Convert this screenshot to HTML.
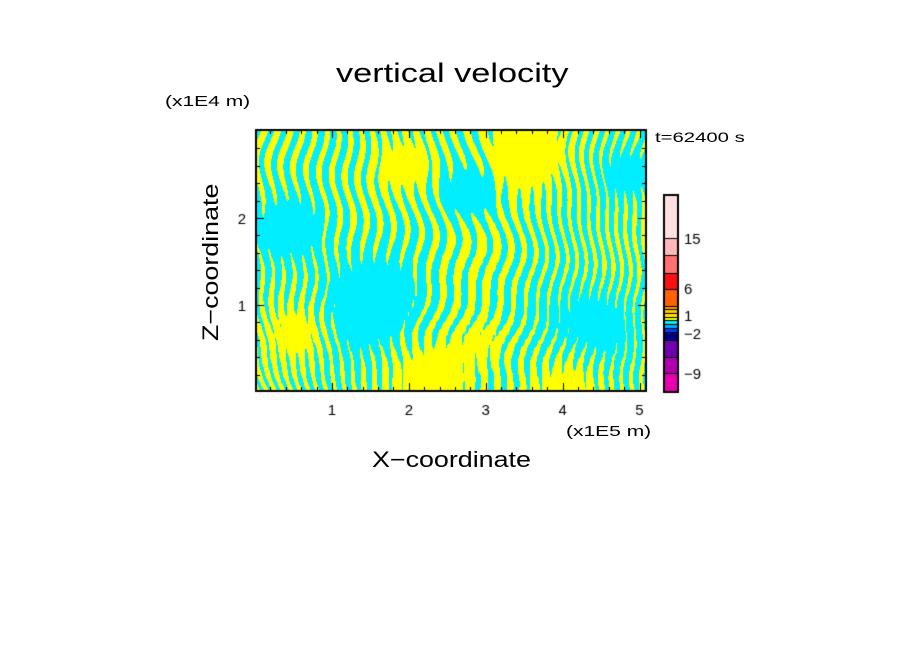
<!DOCTYPE html>
<html><head><meta charset="utf-8"><style>
body{margin:0;background:#fff;width:904px;height:654px;overflow:hidden;position:relative;font-family:"Liberation Sans",sans-serif}
.t{position:absolute;color:#000;white-space:nowrap;transform-origin:0 0}
</style></head><body>
<div class="t" style="left:336px;top:58px;font-size:27px;transform:scaleX(1.27)">vertical velocity</div>
<div class="t" style="left:165px;top:93px;font-size:15px;transform:scaleX(1.4)">(x1E4 m)</div>
<div class="t" style="left:655px;top:129px;font-size:14px;transform:scaleX(1.45)">t=62400 s</div>
<div class="t" style="left:566px;top:423px;font-size:15px;transform:scaleX(1.4)">(x1E5 m)</div>
<div class="t" style="left:372px;top:447px;font-size:22px;transform:scaleX(1.22)">X−coordinate</div>
<div class="t" style="left:198px;top:341px;font-size:22px;transform:rotate(-90deg) scaleX(1.22)">Z−coordinate</div>
<canvas id="c" width="904" height="654" style="position:absolute;left:0;top:0"></canvas>
<script>
const xTicks=[1,2,3,4,5];
const yTicks=[1,2];
const cbLevels=[195,238,255,273,289,306,309,313,317,320,324,328,332,335,340,357,373,392];
const cbColors=["#ffe0e0","#ffb8b8","#ff7070","#ff1010","#ff6000","#ff9a00","#ffc800","#ffe800","#ffff00","#00eeff","#00b0ff","#0040ff","#0000c0","#000090","#7000b0","#b000b0","#e800b0"];
const cbLabels=[["15",238],["6",288],["1",315],["−2",333],["−9",373]];
// large-scale features of the field: [x (1E5 m), z (1E4 m), radius (px), sign]
const blobX=[1.5,4.4,0.45,2.8,4.9,2.3,3.55,0.6,4.1,1.95,3.0];
const blobZ=[1.0,0.8,1.9,2.3,2.5,0.2,2.7,0.7,0.1,2.6,0.6];
const blobR=[42,35,28,20,22,28,28,22,22,22,20];
const blobS=[-1,-1,-1,-1,-1,1,1,1,1,1,0.6];
const L=256,R=646,T=130,B=391;
const sx=v=>255+v*76.9, sy=v=>392-v*87;
const c=document.getElementById('c').getContext('2d');
const cs=1;
for(let px=L;px<R;px+=cs){for(let py=T;py<B;py+=cs){
 const x=(px-L)/(R-L), y=(B-py)/(B-T);
 const d=x-0.6;
 const tilt=-3.5*Math.tanh(d*6)*y + 1.5*Math.sin(3*y+5*x);
 const stripes=Math.sin(2*Math.PI*(38*x+tilt)+ 2*Math.sin(9*y)+1.5*Math.sin(23*y+7*x));
 let blob=0.15*Math.sin(9*x+4*y+1.2)*Math.sin(6*y-4*x+0.5)+0.15*Math.sin(17*x-7*y+2);
 for(let i=0;i<blobX.length;i++){const dx=px-sx(blobX[i]),dy=py-sy(blobZ[i]);
  blob+=1.4*blobS[i]*Math.exp(-(dx*dx+dy*dy*1.3)/(2*blobR[i]*blobR[i]));}
 const w=0.85-0.3*Math.exp(-d*d*60);
 const f=stripes*w+blob+0.15*Math.sin(2*Math.PI*90*x+3*y)*(1-y);
 c.fillStyle=f>0?"#ffff00":"#00eeff";c.fillRect(px,py,cs,cs);
}}
c.strokeStyle="#000";c.lineWidth=2;c.strokeRect(L,T,R-L,B-T);
c.lineWidth=1;c.fillStyle="#000";c.font="15px 'Liberation Sans',sans-serif";c.textAlign="center";
for(let v=0.2;v<5.15;v+=0.2){const x=Math.round(sx(v))+0.5;const big=Math.abs(v-Math.round(v))<0.01;const l=big?8:4;
 c.beginPath();c.moveTo(x,B);c.lineTo(x,B-l);c.moveTo(x,T);c.lineTo(x,T+l);c.stroke();}
xTicks.forEach(v=>c.fillText(String(v),sx(v),415));
c.textAlign="right";
for(let v=0.2;v<3;v+=0.2){const y=Math.round(sy(v))+0.5;const big=Math.abs(v-Math.round(v))<0.01;const l=big?8:4;
 c.beginPath();c.moveTo(L,y);c.lineTo(L+l,y);c.moveTo(R,y);c.lineTo(R-l,y);c.stroke();}
yTicks.forEach(v=>c.fillText(String(v),246,sy(v)+6));
for(let i=0;i<cbColors.length;i++){c.fillStyle=cbColors[i];c.fillRect(664,cbLevels[i],14,cbLevels[i+1]-cbLevels[i]);
 c.beginPath();c.moveTo(664,cbLevels[i]+0.5);c.lineTo(678,cbLevels[i]+0.5);c.stroke();}
c.lineWidth=2;c.strokeRect(664,195,14,197);
c.fillStyle="#000";c.textAlign="left";
cbLabels.forEach(([t,y])=>c.fillText(t,684,y+6));
</script>
</body></html>
